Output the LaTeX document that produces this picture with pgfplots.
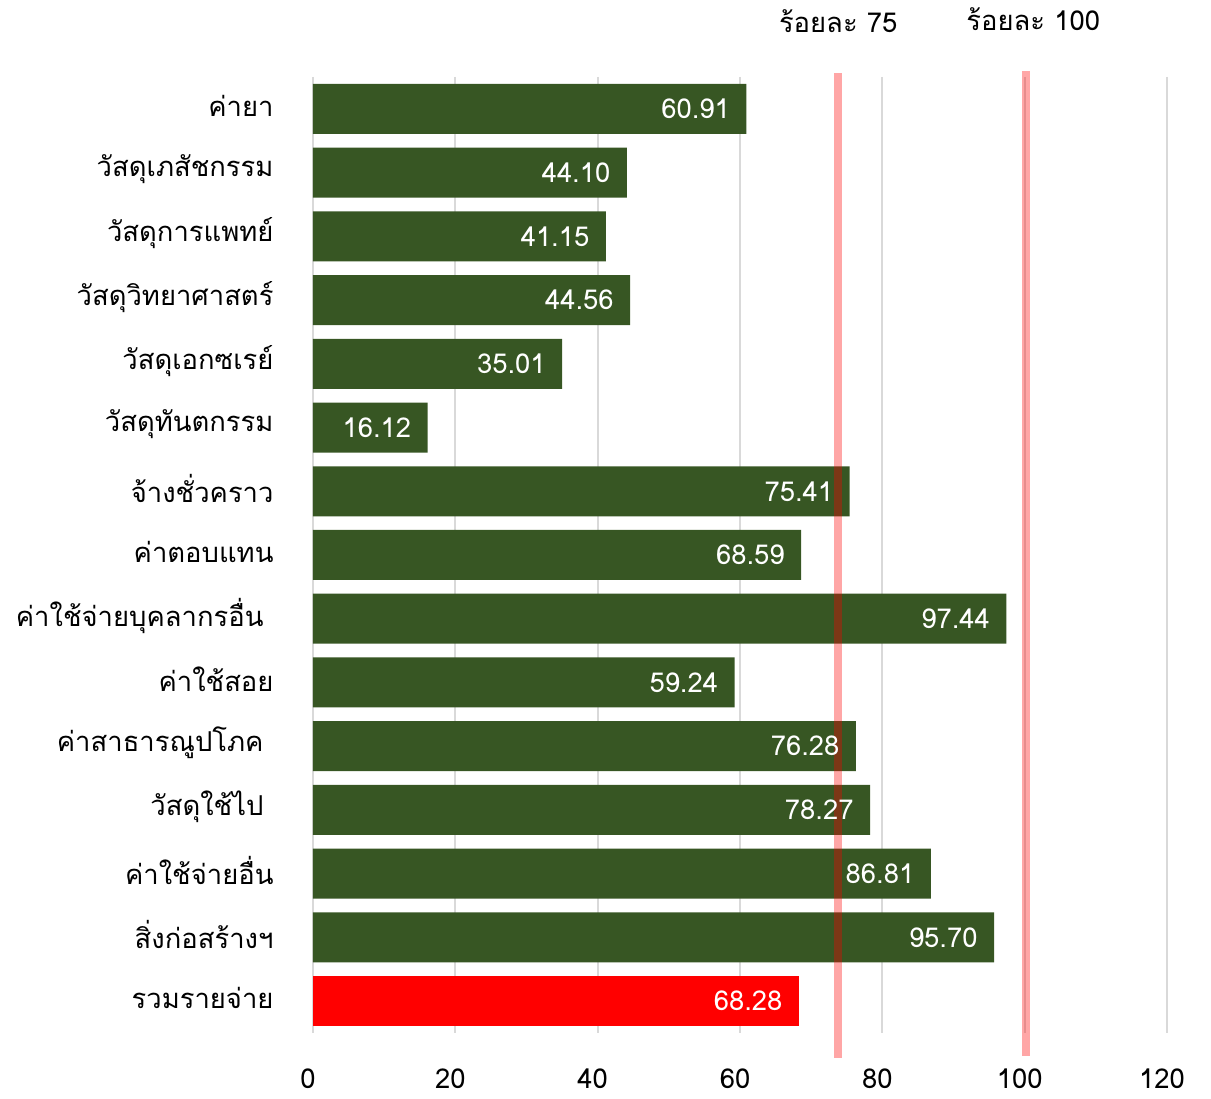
\documentclass[border=0pt]{standalone}
\usepackage{fontspec}
\setmainfont[Script=Thai]{Loma}
\usepackage{pgfplots}
\pgfplotsset{compat=1.18}
\definecolor{bargreen}{HTML}{375623}
\definecolor{gridgray}{HTML}{D9D9D9}
\newcommand{\bigf}{\fontsize{27.5}{31}\selectfont}
\begin{document}
\begin{tikzpicture}
\begin{axis}[
  scale only axis, width=854bp, height=956bp,
  xmin=0, xmax=120, ymin=-0.5, ymax=14.5, y dir=reverse,
  xtick={0,20,...,120}, ytick={0,...,14},
  yticklabels={ค่ายา,วัสดุเภสัชกรรม,วัสดุการแพทย์,วัสดุวิทยาศาสตร์,วัสดุเอกซเรย์,วัสดุทันตกรรม,จ้างชั่วคราว,ค่าตอบแทน,{ค่าใช้จ่ายบุคลากรอื่น\kern10bp},ค่าใช้สอย,{ค่าสาธารณูปโภค\kern10bp},{วัสดุใช้ไป\kern10bp},ค่าใช้จ่ายอื่น,สิ่งก่อสร้างฯ,รวมรายจ่าย},
  axis line style={draw=none}, major tick length=0pt,
  xmajorgrids, grid style={gridgray, line width=2bp},
  xbar, bar width=50bp, bar shift=0pt,
  clip=false,
  tick label style={font=\bigf},
  /pgf/number format/assume math mode=true,
  xticklabel style={yshift=-32bp, xshift=-5bp},
  yticklabel style={xshift=-36bp, yshift=3bp},
]
\addplot[fill=bargreen, draw=none,
  nodes near coords={\pgfmathprintnumber[fixed,fixed zerofill,precision=2,assume math mode=true]{\pgfplotspointmeta}},
  nodes near coords style={anchor=east, xshift=-13bp, text=white, font=\bigf}]
coordinates {(60.91,0) (44.10,1) (41.15,2) (44.56,3) (35.01,4) (16.12,5) (75.41,6) (68.59,7) (97.44,8) (59.24,9) (76.28,10) (78.27,11) (86.81,12) (95.70,13)};
\addplot[fill=red, draw=none,
  nodes near coords={\pgfmathprintnumber[fixed,fixed zerofill,precision=2,assume math mode=true]{\pgfplotspointmeta}},
  nodes near coords style={anchor=east, xshift=-13bp, text=white, font=\bigf}]
coordinates {(68.28,14)};
\addplot[sharp plot, no marks, draw=red, draw opacity=0.35, line width=8bp] coordinates {(73.8,-0.563) (73.8,14.89)};
\addplot[sharp plot, no marks, draw=red, draw opacity=0.35, line width=8bp] coordinates {(100.2,-0.594) (100.2,14.86)};
\node[font=\bigf] at (axis cs:73.8,-1.37) {ร้อยละ 75};
\node[font=\bigf] at (axis cs:101.2,-1.40) {ร้อยละ 100};
\coordinate (BL) at (axis description cs:-0.3665,-0.069);
\coordinate (TR) at (axis description cs:1.0515,1.0805);
\end{axis}
\pgfresetboundingbox
\path[use as bounding box] (BL) rectangle (TR);
\end{tikzpicture}
\end{document}
